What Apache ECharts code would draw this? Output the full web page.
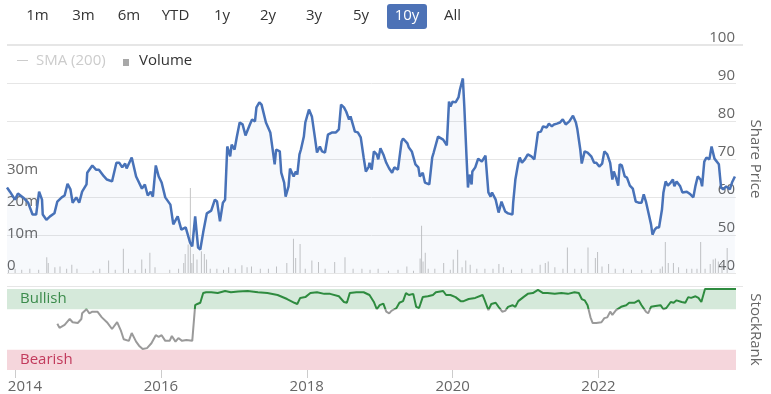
<!DOCTYPE html>
<html>
<head>
<meta charset="utf-8">
<script src="https://cdn.jsdelivr.net/npm/echarts@6/dist/echarts.min.js"></script>
<style>
html,body{margin:0;padding:0;background:#fff;}
#chart{width:771px;height:394px;}
</style>
</head>
<body>
<div id="chart"></div>
<script>
// ---- data (dates as decimal years) ----
var priceDates = [2013.89,2013.93,2014.00,2014.04,2014.11,2014.18,2014.24,2014.29,2014.33,2014.37,2014.38,2014.43,2014.48,2014.54,2014.58,2014.64,2014.68,2014.72,2014.76,2014.79,2014.84,2014.88,2014.92,2014.98,2014.99,2015.06,2015.11,2015.15,2015.22,2015.26,2015.33,2015.39,2015.43,2015.47,2015.51,2015.53,2015.60,2015.66,2015.68,2015.74,2015.78,2015.82,2015.86,2015.89,2015.93,2015.97,2016.01,2016.06,2016.13,2016.17,2016.23,2016.28,2016.34,2016.35,2016.40,2016.43,2016.47,2016.51,2016.54,2016.58,2016.63,2016.69,2016.74,2016.77,2016.81,2016.82,2016.85,2016.88,2016.91,2016.95,2016.97,2017.01,2017.04,2017.08,2017.12,2017.16,2017.22,2017.25,2017.29,2017.31,2017.35,2017.38,2017.44,2017.46,2017.50,2017.56,2017.58,2017.63,2017.65,2017.69,2017.71,2017.75,2017.77,2017.82,2017.85,2017.87,2017.90,2017.92,2017.96,2017.98,2018.03,2018.07,2018.11,2018.14,2018.18,2018.21,2018.25,2018.29,2018.35,2018.40,2018.44,2018.47,2018.51,2018.54,2018.58,2018.60,2018.66,2018.70,2018.74,2018.78,2018.81,2018.85,2018.86,2018.89,2018.92,2018.96,2018.98,2019.01,2019.05,2019.09,2019.13,2019.17,2019.20,2019.25,2019.30,2019.32,2019.38,2019.40,2019.44,2019.49,2019.53,2019.55,2019.59,2019.62,2019.68,2019.72,2019.74,2019.80,2019.82,2019.87,2019.92,2019.95,2019.97,2020.00,2020.04,2020.08,2020.10,2020.14,2020.16,2020.19,2020.21,2020.23,2020.26,2020.27,2020.31,2020.35,2020.40,2020.42,2020.45,2020.49,2020.52,2020.54,2020.59,2020.63,2020.67,2020.69,2020.72,2020.76,2020.82,2020.83,2020.86,2020.90,2020.92,2020.95,2020.99,2021.03,2021.08,2021.12,2021.17,2021.21,2021.24,2021.29,2021.32,2021.36,2021.39,2021.43,2021.47,2021.51,2021.55,2021.60,2021.65,2021.69,2021.71,2021.75,2021.77,2021.81,2021.85,2021.90,2021.94,2021.97,2022.01,2022.05,2022.08,2022.12,2022.16,2022.19,2022.21,2022.24,2022.27,2022.29,2022.32,2022.36,2022.39,2022.43,2022.47,2022.51,2022.55,2022.59,2022.62,2022.65,2022.69,2022.72,2022.74,2022.77,2022.80,2022.83,2022.87,2022.89,2022.92,2022.95,2022.99,2023.02,2023.04,2023.07,2023.12,2023.15,2023.21,2023.26,2023.30,2023.33,2023.36,2023.40,2023.42,2023.45,2023.48,2023.52,2023.55,2023.59,2023.61,2023.65,2023.68,2023.71,2023.75,2023.80,2023.83,2023.87];
var priceValues = [62.5,61.4,59.3,60.9,59.9,58.5,55.4,55.4,61.4,59.3,55.4,54.0,54.9,55.7,58.8,59.9,60.4,63.5,62.0,58.5,59.9,58.5,61.4,63.3,66.4,68.3,67.2,67.2,65.4,64.6,64.1,69.0,69.0,67.8,68.8,67.5,70.4,65.4,64.6,62.2,63.3,60.4,61.4,60.1,68.3,65.4,63.8,59.9,58.0,52.8,54.9,51.4,52.0,51.7,48.0,47.0,54.9,46.7,46.2,50.7,55.7,56.4,59.3,58.8,53.6,53.2,58.5,59.3,73.3,70.7,73.8,72.5,75.7,79.6,79.1,76.2,79.1,80.4,79.9,83.6,84.9,84.3,79.6,79.9,77.0,68.6,72.5,72.0,66.4,63.8,60.1,62.8,67.5,65.4,66.7,65.9,71.2,72.5,75.9,79.6,83.0,81.2,75.9,71.7,73.3,72.0,71.7,76.4,77.0,77.0,77.8,84.3,83.6,82.5,80.4,81.2,77.2,77.0,75.7,70.4,66.7,68.0,69.0,67.2,72.0,71.2,69.9,72.8,71.2,69.0,67.5,66.4,67.8,67.2,74.6,75.4,74.1,73.0,72.0,68.6,67.8,65.4,66.4,63.8,63.3,70.4,71.7,75.9,76.4,75.1,73.6,85.1,83.8,85.1,84.9,86.2,88.3,91.2,83.8,70.7,62.5,65.9,63.3,66.7,67.8,70.1,69.3,68.8,70.9,61.2,60.1,61.2,59.3,55.9,58.8,59.1,56.2,55.7,55.4,58.5,64.6,69.0,70.4,69.0,69.9,71.2,70.7,69.9,77.0,77.2,78.6,78.3,79.3,78.6,79.1,79.3,79.6,80.4,79.1,79.9,81.4,79.6,77.8,72.5,68.8,72.0,71.7,70.7,69.0,69.0,68.0,68.8,72.0,71.2,69.0,64.6,66.7,65.1,63.0,68.6,68.3,65.4,65.1,63.0,62.2,58.8,58.5,58.5,60.7,58.8,55.4,52.8,50.1,51.4,52.0,52.0,56.7,61.2,64.1,63.0,63.8,64.6,62.8,64.1,62.8,61.2,61.4,60.7,59.9,63.0,65.4,64.6,62.8,69.3,70.4,69.9,73.3,70.1,69.9,68.6,62.5,62.0,62.8,62.0,63.8,65.4];

var volDates = [2013.91,2014.00,2014.09,2014.20,2014.32,2014.43,2014.45,2014.54,2014.61,2014.70,2014.77,2014.84,2015.06,2015.15,2015.27,2015.36,2015.47,2015.54,2015.63,2015.72,2015.77,2015.83,2015.90,2016.10,2016.22,2016.29,2016.31,2016.35,2016.38,2016.40,2016.42,2016.47,2016.53,2016.57,2016.60,2016.65,2016.74,2016.83,2016.90,2016.99,2017.08,2017.15,2017.21,2017.33,2017.44,2017.55,2017.69,2017.78,2017.81,2017.87,2017.94,2018.03,2018.12,2018.21,2018.34,2018.48,2018.59,2018.71,2018.82,2018.93,2019.07,2019.20,2019.32,2019.41,2019.50,2019.52,2019.54,2019.57,2019.61,2019.70,2019.82,2019.91,2019.95,2020.01,2020.07,2020.12,2020.18,2020.27,2020.38,2020.49,2020.57,2020.63,2020.74,2020.88,2021.02,2021.13,2021.20,2021.24,2021.33,2021.44,2021.50,2021.60,2021.69,2021.78,2021.88,2021.91,2021.97,2022.06,2022.15,2022.26,2022.37,2022.51,2022.64,2022.76,2022.79,2022.83,2022.87,2022.94,2023.01,2023.12,2023.19,2023.26,2023.31,2023.37,2023.44,2023.48,2023.51,2023.55,2023.60,2023.67];
var volValues = [1.0,1.3,1.0,1.3,1.0,4.9,3.1,1.8,2.0,1.3,2.6,1.3,0.7,1.3,3.9,1.0,7.6,1.3,1.0,4.2,1.3,6.3,1.8,1.0,1.3,3.1,5.9,8.9,26.6,3.1,5.9,4.2,6.8,5.9,4.2,1.3,1.3,1.0,1.8,1.3,2.4,1.8,2.0,1.3,1.3,2.0,3.1,10.7,4.7,9.1,1.3,3.9,3.4,1.3,3.4,4.9,1.3,1.3,1.0,1.3,0.7,1.0,2.0,0.7,4.5,14.8,3.6,6.3,1.3,1.3,3.1,1.0,4.2,7.3,1.8,3.9,2.6,1.3,1.3,1.3,2.8,1.8,1.0,1.3,1.3,2.6,3.1,3.6,1.8,1.3,8.0,1.3,1.3,8.0,4.7,6.6,2.0,2.8,1.3,1.3,1.0,1.0,1.0,1.3,2.0,9.7,3.1,3.1,1.8,1.3,1.3,1.3,9.7,1.3,2.8,4.2,4.5,3.6,2.8,7.8];

var rankDates = [2014.58,2014.61,2014.68,2014.75,2014.79,2014.86,2014.91,2014.92,2014.98,2015.02,2015.06,2015.13,2015.19,2015.26,2015.33,2015.40,2015.45,2015.49,2015.56,2015.60,2015.66,2015.70,2015.75,2015.81,2015.87,2015.93,2015.97,2016.01,2016.06,2016.12,2016.15,2016.20,2016.24,2016.29,2016.35,2016.43,2016.47,2016.50,2016.54,2016.58,2016.62,2016.69,2016.78,2016.88,2016.96,2017.06,2017.19,2017.33,2017.46,2017.60,2017.73,2017.83,2017.87,2017.91,2017.98,2018.05,2018.14,2018.24,2018.32,2018.44,2018.51,2018.55,2018.59,2018.68,2018.78,2018.86,2018.92,2018.96,2019.00,2019.05,2019.09,2019.13,2019.16,2019.20,2019.23,2019.27,2019.32,2019.36,2019.40,2019.46,2019.50,2019.54,2019.59,2019.66,2019.73,2019.77,2019.87,2019.91,2019.97,2020.04,2020.11,2020.15,2020.22,2020.31,2020.41,2020.44,2020.48,2020.49,2020.53,2020.59,2020.63,2020.65,2020.68,2020.72,2020.76,2020.82,2020.86,2020.90,2020.97,2021.03,2021.10,2021.17,2021.24,2021.30,2021.40,2021.49,2021.58,2021.67,2021.73,2021.77,2021.81,2021.85,2021.89,2021.92,2021.97,2022.04,2022.08,2022.12,2022.16,2022.19,2022.24,2022.31,2022.38,2022.42,2022.49,2022.55,2022.59,2022.65,2022.68,2022.72,2022.78,2022.85,2022.89,2022.93,2022.99,2023.03,2023.07,2023.14,2023.19,2023.23,2023.27,2023.33,2023.37,2023.41,2023.46,2023.53,2023.885];
var rankValues = [57,52,55.6,63,59,58,63,70,75,70,72,72,65,59,50.6,59,49,38,36,45.6,35,30,26,27,33,43,41,43,36,36,42,35,39.5,36,37,36,80,81.5,83,95,96,96,95,97.5,96,97,97.5,96,95,92.6,87.6,83,81.5,89,90,95,96,94,94,91,84,83,95,96,96,92.6,84,75,80,82,72,70,73,75,76.5,83,85,95,92.6,94,78,76.5,90,91,92.6,96,97.5,92.6,92.6,90,85,85,87.6,89,92.6,86,76.5,74,81.5,83,78,80,72,73,78,80,78,85,90,94,95,99,95,95,94,95,94,96,95,87.6,86,80,65,58,58,59,64,65,72,68,74,78,80,83,83,86,80,72,70,78,79,80,75,76.5,84,83,86,84,83,90,89,91,89,84,100,100,100];

var yearTicks = [2014, 2016, 2018, 2020, 2022];
var rangeLabels = ['1m', '3m', '6m', 'YTD', '1y', '2y', '3y', '5y', '10y', 'All'];
var selectedRange = '10y';
var bullishLevel = 75, bearishLevel = 25;
var xMin = 2013.89, xMax = 2023.885;

function zip(a, b) { return a.map(function (v, i) { return [v, b[i]]; }); }

var FONT = '"Open Sans", "Noto Sans", sans-serif';
var chart = echarts.init(document.getElementById('chart'), null, { renderer: 'canvas' });

// range selector buttons (decoration)
var btnCenters = [37.5, 83.5, 129, 175.5, 222, 268, 314, 361, 407, 452.5];
var graphics = [];
rangeLabels.forEach(function (t, i) {
  var sel = t === selectedRange;
  if (sel) {
    graphics.push({ type: 'rect', shape: { x: btnCenters[i] - 20, y: 4, width: 40, height: 25, r: 3 },
      style: { fill: '#4d72b6' }, z: 10 });
  }
  graphics.push({ type: 'text', x: btnCenters[i], y: 16, z: 11,
    style: { text: t, fill: sel ? '#ffffff' : '#333333', font: '15px ' + FONT, textAlign: 'center', textVerticalAlign: 'middle' } });
});
graphics.push({ type: 'rect', shape: { x: 7, y: 44, width: 736, height: 2 }, style: { fill: '#e6e6e6' }, z: 5 });
graphics.push({ type: 'rect', shape: { x: 7, y: 286, width: 736, height: 1 }, style: { fill: '#e6e6e6' }, z: 5 });
// legend
graphics.push({ type: 'rect', shape: { x: 17, y: 60, width: 11, height: 1 }, style: { fill: '#cccccc' }, z: 10 });
graphics.push({ type: 'text', x: 36, y: 61, z: 10, style: { text: 'SMA (200)', fill: '#cccccc', font: '15px ' + FONT, textVerticalAlign: 'middle' } });
graphics.push({ type: 'rect', shape: { x: 123, y: 59, width: 6, height: 7 }, style: { fill: '#a8a8a8' }, z: 10 });
graphics.push({ type: 'text', x: 139, y: 61, z: 10, style: { text: 'Volume', fill: '#333333', font: '15px ' + FONT, textVerticalAlign: 'middle' } });

var labelColor = '#666666';
var GREEN = '#2e8b3f', GREY = '#9a9a9a';
var option = {
  animation: false,
  textStyle: { fontFamily: FONT },
  grid: [
    { left: 7, right: 28, top: 45, height: 228 },
    { left: 7, right: 28, top: 177, height: 96 },
    { left: 7, right: 28, top: 289, height: 81 }
  ],
  xAxis: [
    { type: 'value', gridIndex: 0, min: xMin, max: xMax, show: false },
    { type: 'value', gridIndex: 1, min: xMin, max: xMax, show: false },
    { type: 'value', gridIndex: 2, min: xMin, max: xMax,
      axisLine: { show: false },
      axisTick: { show: true, customValues: yearTicks, length: 8, lineStyle: { color: '#cccccc' } },
      splitLine: { show: false },
      axisLabel: { customValues: yearTicks, color: labelColor, fontSize: 15, fontFamily: FONT, margin: 9,
        formatter: function (v) { return Math.round(v) === yearTicks[0] ? '{first|' + Math.round(v) + '}' : String(Math.round(v)); },
        rich: { first: { padding: [0, 0, 0, 20], fontSize: 15, color: labelColor, fontFamily: FONT } } }
    }
  ],
  yAxis: [
    { type: 'value', gridIndex: 0, position: 'right', min: 40, max: 100, interval: 10,
      name: 'Share Price', nameLocation: 'middle', nameRotate: -90, nameGap: 12,
      nameTextStyle: { color: labelColor, fontSize: 15, fontFamily: FONT },
      axisLine: { show: false }, axisTick: { show: false },
      axisLabel: { inside: true, margin: 1, verticalAlign: 'bottom', color: labelColor, fontSize: 15, fontFamily: FONT },
      splitLine: { show: true, lineStyle: { color: '#e6e6e6', width: 1 } } },
    { type: 'value', gridIndex: 1, position: 'left', min: 0, max: 30, interval: 10,
      axisLine: { show: false }, axisTick: { show: false }, splitLine: { show: false },
      axisLabel: { inside: true, margin: 0, verticalAlign: 'bottom', color: labelColor, fontSize: 15, fontFamily: FONT,
        formatter: function (v) { return v === 0 ? '0' : v + 'm'; } } },
    { type: 'value', gridIndex: 2, position: 'right', min: 0, max: 100, interval: 100,
      name: 'StockRank', nameLocation: 'middle', nameRotate: -90, nameGap: 12,
      nameTextStyle: { color: labelColor, fontSize: 15, fontFamily: FONT },
      axisLine: { show: false }, axisTick: { show: false }, splitLine: { show: false },
      axisLabel: { inside: true, margin: 3, verticalAlign: 'bottom', color: labelColor, fontSize: 15, fontFamily: FONT,
        showMaxLabel: false, formatter: function (v) { return v === 0 ? '0' : ''; } } }
  ],
  series: [
    { name: 'Volume', type: 'bar', xAxisIndex: 1, yAxisIndex: 1, data: zip(volDates, volValues),
      barWidth: 1, itemStyle: { color: '#c4c4c4' }, z: 2, silent: true },
    { name: 'Share Price', type: 'line', xAxisIndex: 0, yAxisIndex: 0, data: zip(priceDates, priceValues),
      showSymbol: false, symbol: 'none', lineStyle: { color: '#4872b8', width: 2.5 },
      areaStyle: { color: 'rgba(72,114,184,0.06)', origin: 'start' }, z: 3 },
    { name: 'StockRank', type: 'line', xAxisIndex: 2, yAxisIndex: 2, data: zip(rankDates, rankValues),
      showSymbol: false, symbol: 'none', lineStyle: { width: 2, color: GREEN }, z: 3,
      markArea: { silent: true, data: [
        [{ yAxis: bullishLevel, name: 'Bullish', itemStyle: { color: '#d5e9da' },
           label: { color: '#3b8b4b' } }, { yAxis: 100 }],
        [{ yAxis: 0, name: 'Bearish', itemStyle: { color: '#f5d6dc' },
           label: { color: '#c23a5c' } }, { yAxis: bearishLevel }]
      ], label: { show: true, position: 'insideLeft', distance: 13, fontSize: 15, fontFamily: FONT } } }
  ],
  graphic: graphics
};
chart.setOption(option);

// colour the StockRank line green above the bullish level, grey below (global gradient at the axis pixel)
var yBull = chart.convertToPixel({ yAxisIndex: 2 }, bullishLevel);
var grad = new echarts.graphic.LinearGradient(0, yBull - 0.5, 0, yBull + 0.5, [
  { offset: 0, color: GREEN }, { offset: 0.5, color: GREEN },
  { offset: 0.5, color: GREY }, { offset: 1, color: GREY }
], true);
chart.setOption({ series: [{}, {}, { lineStyle: { color: grad } }] });
</script>
</body>
</html>
